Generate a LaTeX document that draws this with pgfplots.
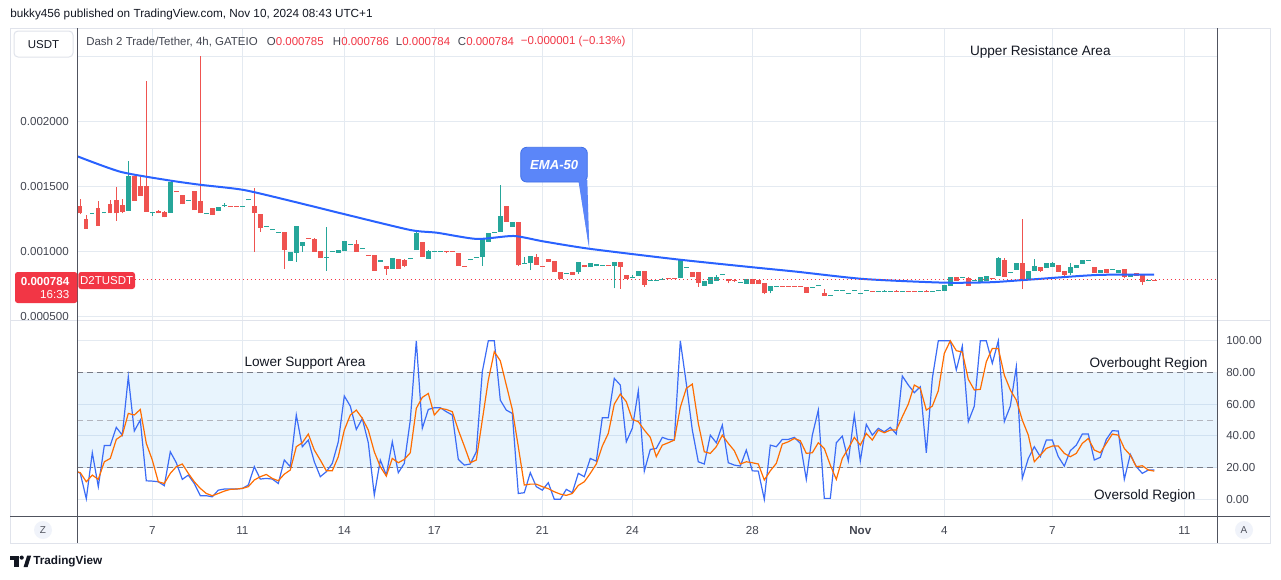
\documentclass[border=0pt]{standalone}
\usepackage{pgfplots}
\pgfplotsset{compat=1.18}
\usepackage{pgfplotstable}
\usepackage{fontspec}
\setmainfont{Liberation Sans}
\definecolor{tvred}{HTML}{EF5350}
\definecolor{tvgreen}{HTML}{26A69A}
\definecolor{tvblue}{HTML}{2962FF}
\definecolor{stkblue}{HTML}{3B6CF6}
\definecolor{tvorange}{HTML}{FF6D00}
\definecolor{gridc}{HTML}{E4EAF1}
\definecolor{framec}{HTML}{E0E3EB}
\definecolor{axdark}{HTML}{50535E}
\definecolor{txt}{HTML}{131722}
\definecolor{lbl}{HTML}{434651}
\definecolor{plred}{HTML}{F23645}
\definecolor{dashc}{HTML}{787B86}
\definecolor{dashl}{HTML}{B2B5BE}
\definecolor{emafill}{HTML}{5B86F9}
\definecolor{emaedge}{HTML}{3F6FE8}
\definecolor{btn}{HTML}{F0F3FA}
\definecolor{bandc}{HTML}{2196F3}
\newcommand{\fa}{\fontsize{8.7pt}{10pt}\selectfont}
\newcommand{\fb}{\fontsize{10.2pt}{12pt}\selectfont}
\newcommand{\fc}{\fontsize{8.6pt}{10pt}\selectfont}

% red candles: index, wick low, wick high, body bottom, body top (price x 1e6)
\pgfplotstableread{
i lo hi bb bt
1 1290 1402 1295 1351
2 1177 1282 1177 1249
4 1200 1390 1200 1333
6 1295 1397 1295 1367
7 1238 1500 1295 1395
8 1295 1402 1308 1361
10 1392 1582 1392 1582
11 1431 1577 1431 1505
12 1308 2311 1308 1505
14 1295 1320 1295 1315
15 1264 1313 1264 1308
17 1458 1464 1458 1464
18 1364 1436 1364 1436
20 1320 1467 1320 1467
21 1295 2503 1295 1390
23 1282 1336 1282 1336
26 1346 1352 1346 1352
27 1346 1352 1346 1352
30 1000 1487 1300 1351
31 1154 1290 1182 1290
35 867 1151 1013 1151
39 1099 1105 1099 1105
40 1000 1105 1000 1100
41 951 1005 951 1005
47 1000 1090 1000 1059
49 969 975 969 975
50 854 972 854 972
52 823 890 869 890
54 867 944 867 944
55 879 944 890 936
58 961 1074 961 1074
62 987 1008 1002 1008
63 1000 1006 1000 1006
64 892 990 892 990
65 884 890 884 890
72 1231 1351 1231 1351
74 890 1228 895 1228
77 900 979 900 956
78 884 890 884 890
79 923 944 923 944
80 841 928 841 928
81 792 841 792 841
83 823 841 823 841
85 879 895 879 895
89 892 898 892 898
91 715 918 879 918
92 792 818 792 818
95 731 851 746 851
99 794 800 794 800
100 794 800 794 800
103 808 843 808 843
104 731 843 761 843
109 756 790 772 790
110 769 790 776 782
113 754 790 754 790
114 751 782 751 782
115 672 761 679 761
118 730 736 730 736
119 730 736 730 736
120 730 736 730 736
121 731 737 731 737
122 685 726 685 726
125 662 716 662 683
133 695 701 695 701
137 695 708 695 701
139 695 701 695 701
140 695 701 695 701
142 688 708 688 701
147 777 806 777 806
149 739 806 739 798
153 792 798 792 798
155 808 949 808 936
158 713 1252 783 913
161 847 880 854 880
164 847 898 847 898
165 808 852 821 852
170 839 883 839 883
172 839 867 839 867
175 795 867 808 867
177 816 834 816 834
178 747 829 770 829
180 782 786 782 786
}\redc

\pgfplotstableread{
i lo hi bb bt
3 1293 1300 1293 1300
5 1295 1302 1295 1302
9 1315 1697 1315 1585
13 1277 1308 1295 1308
16 1300 1536 1300 1536
19 1392 1398 1392 1398
22 1293 1300 1293 1300
24 1315 1344 1315 1344
25 1346 1372 1351 1357
28 1346 1352 1346 1352
29 1397 1403 1397 1403
32 1192 1198 1192 1198
33 1172 1178 1172 1178
34 1149 1155 1149 1155
36 928 997 928 997
37 923 1197 992 1197
38 1000 1074 1044 1074
42 854 1187 956 962
43 1003 1009 1003 1009
44 992 1013 992 1013
45 1008 1082 1008 1082
46 1056 1062 1056 1062
48 1023 1029 1023 1029
51 923 936 923 936
53 867 949 867 949
56 943 949 943 949
57 1013 1161 1013 1144
59 946 1013 946 1005
60 1003 1009 1003 1009
61 1002 1008 1002 1008
66 936 942 936 942
67 956 962 956 962
68 892 1095 959 1095
69 1077 1144 1077 1144
70 1146 1152 1146 1152
71 1154 1513 1154 1274
73 1192 1228 1192 1228
75 907 959 907 913
76 859 964 910 964
82 833 839 833 839
84 831 918 846 918
86 879 910 879 910
87 887 902 887 902
88 892 898 892 898
90 718 918 890 918
93 802 820 802 808
94 815 849 815 849
96 776 782 776 782
97 779 785 779 785
98 787 800 787 793
101 795 936 795 936
102 876 882 876 882
105 738 772 738 772
106 751 808 751 808
107 777 820 777 803
108 823 829 823 829
111 764 770 764 770
112 754 790 754 790
116 679 736 697 736
117 728 734 728 734
123 723 729 723 729
124 739 745 739 745
126 662 668 662 668
127 703 709 703 709
128 703 709 703 709
129 680 686 680 686
130 703 709 703 709
131 680 686 680 686
132 703 709 703 709
134 695 701 695 701
135 695 708 695 701
136 695 701 695 701
138 695 701 695 701
141 695 701 695 701
143 695 701 695 701
144 695 708 695 708
145 701 744 701 744
146 739 806 739 806
148 800 806 800 806
150 777 783 777 783
151 762 806 762 806
152 777 813 777 813
154 816 960 816 952
156 836 842 836 842
157 862 913 862 913
159 788 852 788 852
160 854 944 854 890
162 877 911 877 911
163 885 921 885 913
166 821 913 839 880
167 875 898 875 898
168 906 936 906 936
169 933 939 933 939
171 839 860 839 860
173 862 868 862 868
174 834 860 834 860
176 808 829 808 829
179 780 786 780 786
}\greenc

\pgfplotstableread{
i k d
0.5 17.4 17.4
1 16.4 16.8
2 0.4 11.1
3 29.4 15.3
4 8.0 12.6
5 34.0 23.7
6 34.0 25.8
7 45.4 37.8
8 40.5 40.5
9 77.3 54.2
10 43.1 53.2
11 50.0 56.7
12 11.7 35.3
13 11.5 24.8
14 11.1 11.1
15 8.6 10.0
16 30.0 16.4
17 23.1 20.6
18 12.6 22.3
19 15.3 16.4
20 10.0 11.1
21 2.3 6.9
22 2.3 3.7
23 1.6 2.3
24 5.8 3.7
25 6.5 5.2
26 6.5 6.3
27 6.5 6.5
28 6.9 6.9
29 9.0 8.0
30 20.6 12.2
31 12.8 14.3
32 13.2 15.7
33 12.8 13.2
34 10.0 11.7
35 24.8 15.9
36 20.6 18.5
37 53.2 33.2
38 33.2 35.7
39 37.4 41.2
40 23.7 31.1
41 14.3 24.8
42 17.4 18.0
43 22.7 18.0
44 36.3 26.9
45 65.2 43.7
46 58.8 53.2
47 44.1 56.3
48 50.9 51.1
49 35.7 43.7
50 2.7 30.0
51 24.8 20.6
52 15.3 14.7
53 36.3 25.8
54 16.8 23.1
55 22.7 25.2
56 50.0 29.4
57 100 57.4
58 44.8 64.3
59 56.7 66.8
60 57.8 53.2
61 57.8 57.4
62 55.3 56.7
63 53.2 55.3
64 25.2 43.7
65 21.6 33.6
66 22.3 23.1
67 30.0 24.8
68 80.5 50.0
69 100 75.2
70 100 93.1
71 62.6 87.4
72 56.3 72.1
73 54.2 56.7
74 3.7 33.2
75 4.2 9.0
76 16.8 9.6
77 8.0 9.6
78 5.8 8.0
79 10.5 6.7
80 0 4.8
81 0 3.3
82 6.3 2.5
83 4.2 3.7
84 16.4 8.8
85 14.3 11.1
86 25.8 16.4
87 24.1 22.3
88 51.5 33.6
89 51.5 41.6
90 76.3 60.1
91 72.1 66.4
92 36.3 61.6
93 44.8 50.4
94 68.5 49.0
95 17.8 43.7
96 31.5 39.1
97 32.1 26.9
98 39.1 34.2
99 37.8 35.7
100 37.4 37.4
101 100 58.0
102 73.1 70.0
103 43.7 72.7
104 23.7 47.9
105 22.3 30.0
106 40.5 29.0
107 35.7 33.2
108 46.9 40.5
109 23.1 35.3
110 21.6 30.7
111 21.0 22.3
112 31.1 23.7
113 18.0 23.1
114 17.8 22.3
115 0 12.2
116 34.2 18.0
117 33.2 22.7
118 37.8 34.9
119 37.8 36.3
120 39.1 38.4
121 35.3 37.0
122 12.6 29.0
123 40.5 29.4
124 56.3 35.7
125 0.6 32.1
126 0.6 21.6
127 35.7 12.6
128 39.9 25.8
129 24.3 32.1
130 53.2 39.1
131 24.3 34.2
132 47.3 41.6
133 40.5 37.4
134 44.8 43.7
135 42.6 42.0
136 45.4 43.7
137 41.2 43.7
138 77.8 52.1
139 72.1 60.1
140 67.3 72.1
141 71.0 70.0
142 29.4 56.3
143 76.3 58.8
144 100 68.5
145 100 92.1
146 100 100
147 81.6 93.8
148 96.7 92.9
149 49.0 75.7
150 58.8 69.0
151 100 69.4
152 100 86.8
153 85.8 95.2
154 100 95.2
155 49.0 78.4
156 58.8 69.0
157 83.7 62.6
158 13.2 50.0
159 25.8 40.5
160 33.2 23.7
161 26.9 27.9
162 37.4 32.1
163 37.4 33.6
164 26.9 33.6
165 21.0 29.0
166 30.7 26.9
167 34.2 29.0
168 41.2 35.3
169 41.2 38.4
170 24.8 31.1
171 26.5 29.4
172 37.8 35.3
173 43.3 41.2
174 43.1 40.5
175 12.6 32.1
176 28.4 27.9
177 20.6 20.6
178 16.4 21.2
179 18.5 18.5
180 18.5 17.8
}\stoch

\pgfplotsset{
  tvax/.style={scale only axis, width=855pt, xmin=0.5, xmax=190.5,
    axis line style={draw=none}, major tick length=0pt,
    xtick={13,28,45,60,78,93,113,131,145,163,185},
    xmajorgrids, ymajorgrids, grid style={gridc, line width=0.75pt},
    ticklabel style={font=\fa, color=lbl}},
  wick/.style={draw=none, mark=none, error bars/.cd, y dir=plus, y explicit,
    error mark=none, error bar style={draw=#1, line width=0.75pt}},
  body/.style={draw=none, mark=none, error bars/.cd, y dir=plus, y explicit,
    error mark=none, error bar style={draw=#1, line width=3.3pt}},
}

\begin{document}
\begin{tikzpicture}
\path[fill=white] (0pt,0pt) rectangle (960.75pt,-434.25pt);

% ---------------- price panel ----------------
\begin{axis}[tvax, at={(57.975pt,-240.375pt)}, anchor=south west,
  height=219.375pt, ymin=470.8, ymax=2720.7,
  ytick={500,1000,1500,2000,2500},
  yticklabels={0.000500,0.001000,0.001500,0.002000,{}},
  xticklabel style={text opacity=0, opacity=0},
  yticklabel style={anchor=east, inner sep=0pt, xshift=-6.2pt}]
\addplot[wick=tvred] table[x=i, y=lo, y error expr=\thisrow{hi}-\thisrow{lo}] {\redc};
\addplot[wick=tvgreen] table[x=i, y=lo, y error expr=\thisrow{hi}-\thisrow{lo}] {\greenc};
\addplot[body=tvred] table[x=i, y=bb, y error expr=\thisrow{bt}-\thisrow{bb}] {\redc};
\addplot[body=tvgreen] table[x=i, y=bb, y error expr=\thisrow{bt}-\thisrow{bb}] {\greenc};
\addplot[tvblue, line width=1.5pt, smooth, tension=0.4] coordinates {
(0.5,1734) (7.67,1615) (15.45,1551) (20.95,1515) (28.23,1475) (36.57,1385)
(44.9,1290) (56.0,1167) (60.45,1146) (67.1,1098) (73.2,1121) (78.1,1080)
(85.8,1023) (100.45,941) (113.1,880) (120.45,846) (131.6,790) (144.9,762)
(152.6,765) (158.2,782) (170.4,821) (179.95,823)};
\draw[plred, line width=0.9pt, dash pattern=on 1.1pt off 1.9pt]
  (axis cs:10.1,784) -- (axis cs:190.5,784);
\end{axis}

% ---------------- stochastic panel ----------------
\begin{axis}[tvax, at={(57.975pt,-387.225pt)}, anchor=south west,
  height=146.475pt, ymin=-10.7, ymax=112.5,
  ytick={0,20,40,60,80,100},
  yticklabels={0.00,20.00,40.00,60.00,80.00,100.00},
  yticklabel pos=right,
  yticklabel style={anchor=west, inner sep=0pt, xshift=6.5pt},
  xticklabels={7,11,14,17,21,24,28,\textbf{Nov},4,7,11},
  xticklabel style={anchor=base, inner sep=0pt, yshift=-13.5pt}]
\fill[bandc, fill opacity=0.1] (axis cs:0.5,20) rectangle (axis cs:190.5,80);
\draw[dashc, line width=0.75pt, dash pattern=on 4.5pt off 3pt] (axis cs:0.5,80) -- (axis cs:190.5,80);
\draw[dashl, line width=0.75pt, dash pattern=on 4.5pt off 3pt] (axis cs:0.5,50) -- (axis cs:190.5,50);
\draw[dashc, line width=0.75pt, dash pattern=on 4.5pt off 3pt] (axis cs:0.5,20) -- (axis cs:190.5,20);
\addplot[stkblue, line width=0.9pt] table[x=i, y=k] {\stoch};
\addplot[tvorange, line width=0.9pt] table[x=i, y=d] {\stoch};
\end{axis}

% ---------------- frame, labels, annotations ----------------
\begin{scope}[x=0.75pt, y=-0.75pt]
\fill[white] (10.5,321) rectangle (76.8,515.8);
\draw[framec, line width=0.75pt] (10,28) rectangle (1270,543);
\draw[framec, line width=0.75pt] (10,320.7) -- (1270,320.7);
\draw[axdark, line width=0.75pt] (77.3,28) -- (77.3,543);
\draw[axdark, line width=0.75pt] (1217.3,28) -- (1217.3,543);
\draw[axdark, line width=0.75pt] (10,516.3) -- (1270,516.3);

% header
\node[anchor=west, inner sep=0pt, text=txt, font=\fontsize{8.8pt}{10pt}\selectfont] at (10,14)
  {bukky456 published on TradingView.com, Nov 10, 2024 08:43 UTC+1};

% symbol box and legend
\draw[framec, fill=white, line width=0.75pt, rounded corners=3pt] (14,31) rectangle (73,57);
\node[text=txt, font=\fc] at (43.5,44.5) {USDT};
\node[anchor=west, inner sep=0pt, text=lbl, font=\fc] at (86,42) {Dash 2 Trade/Tether, 4h, GATEIO};
\node[anchor=west, inner sep=0pt, text=lbl, font=\fc] at (266.7,42) {O\textcolor{plred}{0.000785}};
\node[anchor=west, inner sep=0pt, text=lbl, font=\fc] at (332.7,42) {H\textcolor{plred}{0.000786}};
\node[anchor=west, inner sep=0pt, text=lbl, font=\fc] at (395.7,42) {L\textcolor{plred}{0.000784}};
\node[anchor=west, inner sep=0pt, text=lbl, font=\fc] at (457.7,42) {C\textcolor{plred}{0.000784}};
\node[anchor=west, inner sep=0pt, text=plred, font=\fc] at (520.7,42) {−0.000001 (−0.13\%)};

% price label
\fill[plred, rounded corners=2pt] (15,272) rectangle (77.3,303);
\node[anchor=east, inner sep=0pt, text=white, font=\bfseries\fa] at (69.5,281.5) {0.000784};
\node[anchor=east, inner sep=0pt, text=white, font=\fa] at (69.5,295) {16:33};
\fill[plred, rounded corners=2pt] (78.3,272) rectangle (135,289);
\node[text=white, inner sep=0pt, font=\fontsize{8.6pt}{10pt}\selectfont] at (106.6,280.8) {D2TUSDT};

% EMA-50 callout
\fill[emafill] (578.3,180) -- (587.3,180) -- (589.3,248.7) -- cycle;
\draw[emaedge, fill=emafill, line width=0.6pt, rounded corners=4.5pt] (520.7,147.3) rectangle (587.3,182);
\fill[emafill] (578.8,180) -- (586.8,180) -- (588.6,246) -- cycle;
\node[text=white, font=\bfseries\itshape\fontsize{9.8pt}{11pt}\selectfont] at (554.2,164.5) {EMA-50};

% annotations
\node[text=txt, font=\fb] at (1040.3,52.3) {Upper Resistance Area};
\node[anchor=west, inner sep=0pt, text=txt, font=\fb] at (244.3,363.3) {Lower Support Area};
\node[anchor=east, inner sep=0pt, text=txt, font=\fb] at (1207.7,364.3) {Overbought Region};
\node[anchor=east, inner sep=0pt, text=txt, font=\fb] at (1195.7,496) {Oversold Region};

% buttons
\fill[btn] (43,530) circle (9);
\node[text=axdark, font=\fontsize{7.5pt}{9pt}\selectfont] at (43,530) {Z};
\fill[btn] (1244,530) circle (9);
\node[text=axdark, font=\fontsize{7.5pt}{9pt}\selectfont] at (1244,530) {A};

% footer logo
\fill[txt] (10,555.5) rectangle (18.5,559.5);
\fill[txt] (14.3,559.5) rectangle (18.5,567);
\fill[txt] (21.7,557.6) circle (2.1);
\fill[txt] (23.6,567) -- (27.2,555.5) -- (31.2,555.5) -- (27.6,567) -- cycle;
\node[anchor=west, inner sep=0pt, text=txt, font=\bfseries\fontsize{8.8pt}{10pt}\selectfont] at (33,561.3) {TradingView};
\end{scope}
\end{tikzpicture}
\end{document}
